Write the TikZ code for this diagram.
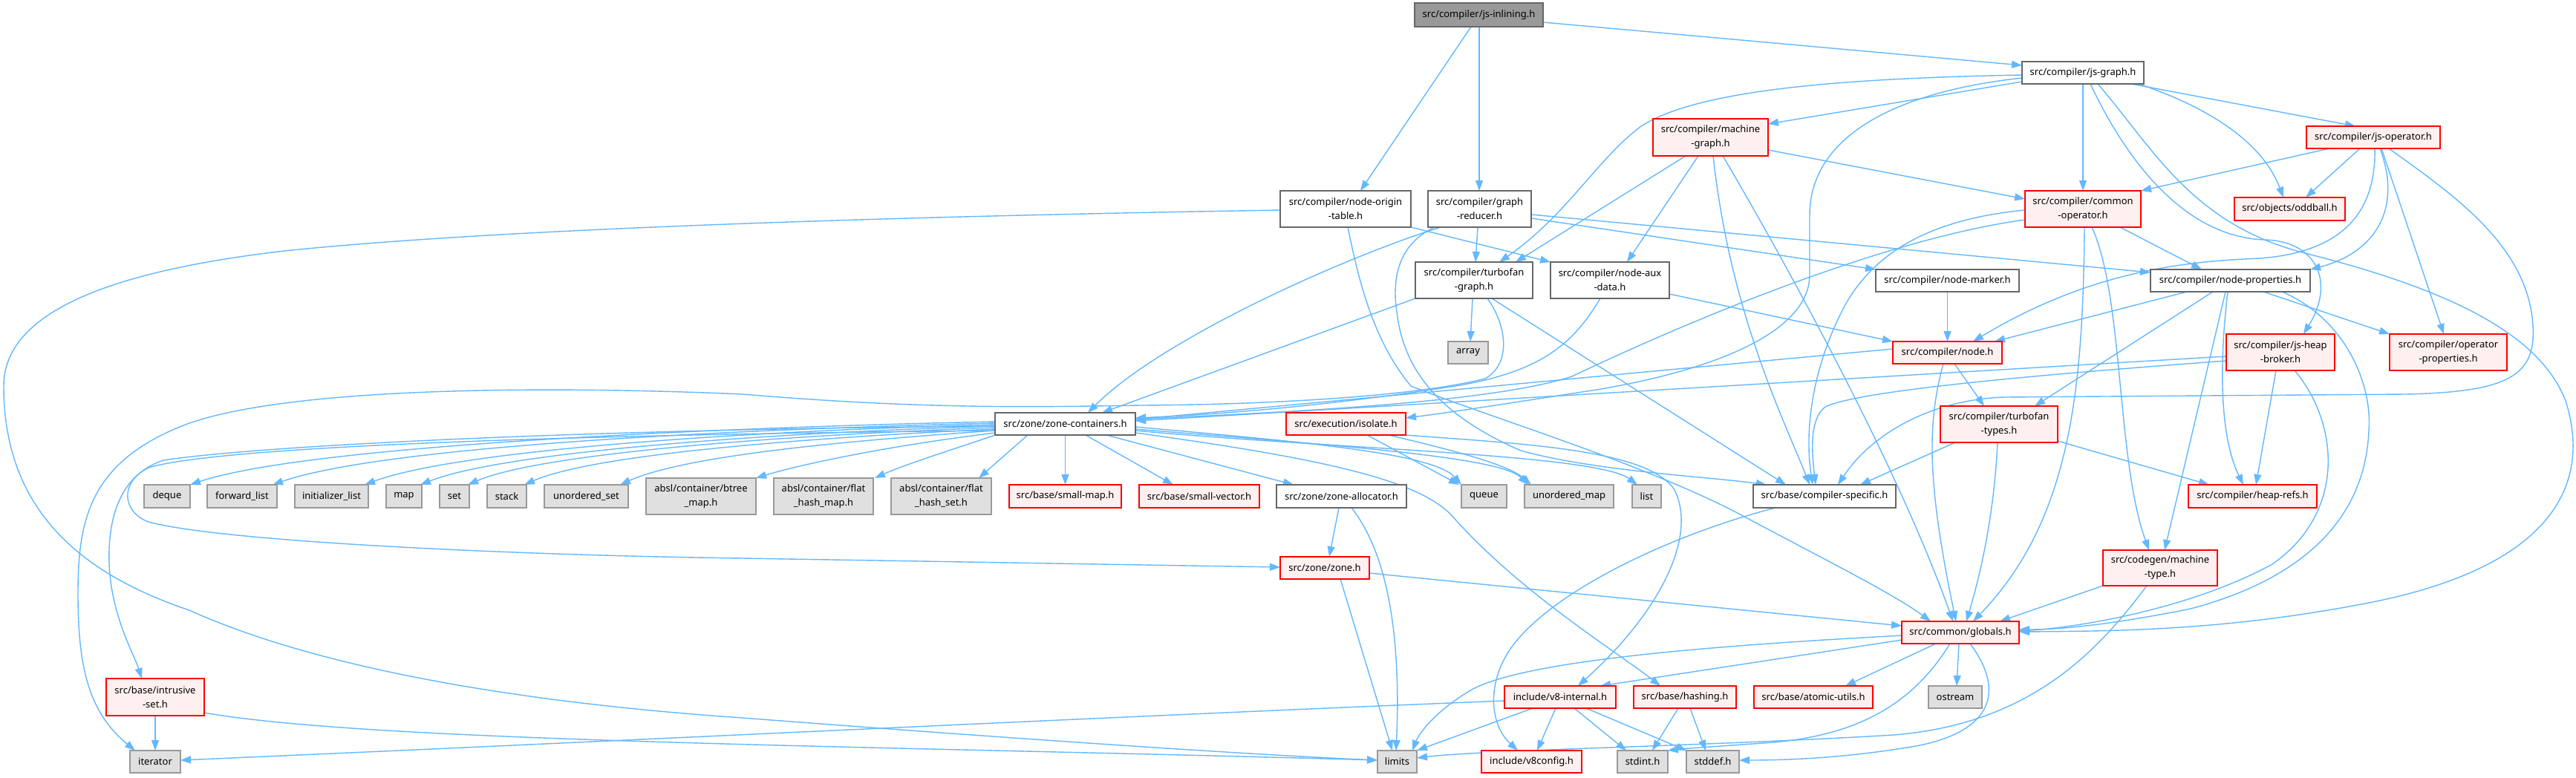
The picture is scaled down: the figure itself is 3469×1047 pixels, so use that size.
\documentclass[tikz,border=0pt]{standalone}
\usepackage{fontspec}
\newfontfamily\nf{Noto Sans}
\usetikzlibrary{arrows.meta}
\definecolor{eblue}{HTML}{63B8FF}
\definecolor{bred}{HTML}{FF0000}
\definecolor{bpink}{HTML}{FFF0F0}
\definecolor{bgray}{HTML}{666666}
\definecolor{ggray}{HTML}{999999}
\definecolor{gfill}{HTML}{E0E0E0}
\definecolor{mfill}{HTML}{999999}
\definecolor{mgray}{HTML}{666666}
\pgfdeclarelayer{back}\pgfdeclarelayer{edges}\pgfsetlayers{back,edges,main}
\tikzset{
 bx/.style={draw, line width=1.8pt, inner sep=0pt, outer sep=0pt, align=center, text=black, font=\nf\fontsize{13}{19}\selectfont},
 wb/.style 2 args={bx, draw=bgray, fill=white, minimum width=#1pt, minimum height=#2pt},
 rb/.style 2 args={bx, draw=bred, fill=bpink, minimum width=#1pt, minimum height=#2pt},
 gb/.style 2 args={bx, draw=ggray, fill=gfill, minimum width=#1pt, minimum height=#2pt},
 mb/.style 2 args={bx, draw=mgray, fill=mfill, minimum width=#1pt, minimum height=#2pt},
 e/.style={draw=eblue, line width=1.4pt, -{Triangle[length=14pt,width=10pt]}}
}
\begin{document}
\begin{tikzpicture}[x=1pt,y=-1pt]
\useasboundingbox (0,0) rectangle (3469,1047);
\begin{pgfonlayer}{back}\fill[white] (0,0) rectangle (3469,1047);\end{pgfonlayer}
% ---------- nodes ----------
\node[mb={173}{32}] (jsinl) at (1991.5,20) {src/compiler/js-inlining.h};
\node[wb={164}{30}] (jsgraph) at (2805,98) {src/compiler/js-graph.h};
\node[rb={155}{50}] (mgraph) at (2303.5,185) {src/compiler/machine\\-graph.h};
\node[rb={180}{30}] (jsop) at (3196,185) {src/compiler/js-operator.h};
\node[wb={176}{49}] (nodeorig) at (1812,281.5) {src/compiler/node-origin\\-table.h};
\node[wb={139}{49}] (greducer) at (1992.5,281.5) {src/compiler/graph\\-reducer.h};
\node[rb={156}{49}] (commonop) at (2805,281.5) {src/compiler/common\\-operator.h};
\node[rb={149}{31}] (oddball) at (3083.5,281.5) {src/objects/oddball.h};
\node[wb={158}{49}] (tfgraph) at (1985,377.5) {src/compiler/turbofan\\-graph.h};
\node[wb={160}{49}] (auxdata) at (2168,377.5) {src/compiler/node-aux\\-data.h};
\node[wb={193}{30}] (marker) at (2622.5,378) {src/compiler/node-marker.h};
\node[wb={215}{30}] (nprops) at (3003.5,378) {src/compiler/node-properties.h};
\node[gb={54}{30}] (array) at (1977,475) {array};
\node[rb={147}{30}] (nodeh) at (2622.5,475) {src/compiler/node.h};
\node[rb={146}{49}] (heapbroker) at (3071,474.5) {src/compiler/js-heap\\-broker.h};
\node[rb={158}{49}] (opprops) at (3297,474.5) {src/compiler/operator\\-properties.h};
\node[wb={189}{30}] (zc) at (1434.5,571) {src/zone/zone-containers.h};
\node[rb={161}{30}] (isolate) at (1812.5,571) {src/execution/isolate.h};
\node[rb={158}{49}] (tftypes) at (2692,571.5) {src/compiler/turbofan\\-types.h};
\node[gb={62}{31}] (deque) at (225,668.5) {deque};
\node[gb={94}{31}] (fwdlist) at (326,668.5) {forward\_list};
\node[gb={99}{31}] (initlist) at (446.5,668.5) {initializer\_list};
\node[gb={48}{31}] (map) at (544,668.5) {map};
\node[gb={40}{31}] (set) at (612,668.5) {set};
\node[gb={53}{31}] (stack) at (682.5,668.5) {stack};
\node[gb={113}{31}] (uset) at (789.5,668.5) {unordered\_set};
\node[gb={148}{49}] (btree) at (944,668.5) {absl/container/btree\\\_map.h};
\node[gb={134}{49}] (fhmap) at (1109,668.5) {absl/container/flat\\\_hash\_map.h};
\node[gb={135}{49}] (fhset) at (1267.5,668.5) {absl/container/flat\\\_hash\_set.h};
\node[rb={151}{31}] (smallmap) at (1434.5,668.5) {src/base/small-map.h};
\node[rb={162}{31}] (smallvec) at (1615,668.5) {src/base/small-vector.h};
\node[wb={175}{31}] (zalloc) at (1806.5,668.5) {src/zone/zone-allocator.h};
\node[gb={61}{31}] (queue) at (1998.5,668.5) {queue};
\node[gb={120}{31}] (umap) at (2113,668.5) {unordered\_map};
\node[gb={39}{31}] (list) at (2217.5,668.5) {list};
\node[wb={192}{31}] (cspec) at (2457,668.5) {src/base/compiler-specific.h};
\node[rb={173}{31}] (heaprefs) at (3033.5,668.5) {src/compiler/heap-refs.h};
\node[rb={154}{48}] (mtype) at (2909,765) {src/codegen/machine\\-type.h};
\node[rb={120}{30}] (zoneh) at (1784,765) {src/zone/zone.h};
\node[rb={158}{30}] (globals) at (2640,852) {src/common/globals.h};
\node[rb={132}{50}] (intrusive) at (209,939) {src/base/intrusive\\-set.h};
\node[rb={150}{30}] (v8int) at (2101,939) {include/v8-internal.h};
\node[rb={138}{30}] (hashing) at (2269,939) {src/base/hashing.h};
\node[rb={160}{30}] (atomic) at (2442,939) {src/base/atomic-utils.h};
\node[gb={72}{30}] (ostream) at (2633,939) {ostream};
\node[gb={68}{30}] (iterator) at (209,1026) {iterator};
\node[gb={53}{30}] (limits) at (1881.5,1026) {limits};
\node[rb={135}{30}] (v8config) at (2062.5,1026) {include/v8config.h};
\node[gb={68}{30}] (stdint) at (2212,1026) {stdint.h};
\node[gb={71}{30}] (stddef) at (2306.5,1026) {stddef.h};
% ---------- edges ----------
\begin{pgfonlayer}{edges}
% js-inlining
\draw[e] (jsinl.south -| 1981,0) -- (nodeorig.north -| 1832,0);
\draw[e] (jsinl.south -| 1992,0) -- (greducer.north -| 1992,0);
\draw[e] (jsinl.east |- 0,30) -- (jsgraph.west |- 0,88);
% js-graph
\draw[e] (jsgraph.west |- 0,110) -- (mgraph.east |- 0,167);
\draw[e] (jsgraph.south) -- (commonop.north);
\draw[e] (jsgraph.south -| 2870,0) -- (jsop.north -| 3172,0);
\draw[e] (jsgraph.south -| 2880,0) .. controls (2990,150) and (3050,200) .. (oddball.north -| 3075,0);
\draw[e] (jsgraph.west |- 0,101) .. controls (2450,106) and (2280,125) .. (2210,170) .. controls (2150,215) and (2110,290) .. (tfgraph.north -| 2019,0);
\draw[e] (jsgraph.west |- 0,105) .. controls (2540,125) and (2437,190) .. (2437,290) -- (2437,370) .. controls (2437,450) and (2300,500) .. (2150,525) .. controls (2020,545) and (1950,556) .. (isolate.east |- 0,563);
\draw[e] (jsgraph.south -| 2815,0) .. controls (2870,230) and (2950,320) .. (3050,323) .. controls (3120,325) and (3145,380) .. (heapbroker.north -| 3102,0);
\draw[e] (jsgraph.south -| 2825,0) .. controls (2900,200) and (2950,300) .. (3100,340) .. controls (3300,390) and (3420,450) .. (3455,540) .. controls (3490,650) and (3440,760) .. (3200,810) .. controls (3000,850) and (2850,850) .. (globals.east |- 0,851);
% machine-graph
\draw[e] (mgraph.east |- 0,202) -- (commonop.west |- 0,268);
\draw[e] (mgraph.south -| 2270,0) -- (tfgraph.north -| 2041,0);
\draw[e] (mgraph.south -| 2287,0) -- (auxdata.north -| 2191,0);
\draw[e] (mgraph.south -| 2307,0) .. controls (2330,420) and (2400,560) .. (cspec.north -| 2437,0);
\draw[e] (mgraph.south -| 2320,0) .. controls (2420,380) and (2560,640) .. (globals.north -| 2630,0);
% node-origin-table
\draw[e] (nodeorig.south east) -- (auxdata.north west);
\draw[e] (nodeorig.west |- 0,283) .. controls (1300,290) and (700,305) .. (383,338) .. controls (150,365) and (5,420) .. (5,520) .. controls (5,680) and (100,770) .. (255,822) .. controls (450,910) and (750,950) .. (1000,967) .. controls (1300,990) and (1650,1015) .. (limits.west |- 0,1024);
\draw[e] (nodeorig.south -| 1815,0) .. controls (1830,380) and (1850,460) .. (1900,520) .. controls (2000,560) and (2200,620) .. (2334,688) .. controls (2450,750) and (2550,800) .. (globals.north -| 2600,0);
% graph-reducer
\draw[e] (greducer.south -| 1990,0) -- (tfgraph.north -| 1987,0);
\draw[e] (greducer.east |- 0,294) -- (marker.north west);
\draw[e] (greducer.east |- 0,289) -- (nprops.west |- 0,367);
\draw[e] (greducer.south -| 1940,0) .. controls (1800,350) and (1560,460) .. (zc.north -| 1465,0);
\draw[e] (greducer.south -| 1932,0) .. controls (1880,330) and (1875,380) .. (1881,420) .. controls (1890,500) and (1940,560) .. (2048,607) .. controls (2150,635) and (2300,642) .. (cspec.north -| 2379,0);
% turbofan-graph
\draw[e] (tfgraph.south -| 1983,0) -- (array.north -| 1980,0);
\draw[e] (tfgraph.south west) -- (zc.north -| 1484,0);
\draw[e] (tfgraph.south -| 2009,0) -- (cspec.north -| 2405,0);
\draw[e] (tfgraph.south -| 2003,0) .. controls (2030,440) and (2035,490) .. (2000,510) .. controls (1900,535) and (1700,545) .. (1537,546) .. controls (1400,548) and (1250,552) .. (1000,531) .. controls (750,520) and (400,520) .. (255,570) .. controls (120,620) and (105,700) .. (105,800) .. controls (105,900) and (120,960) .. (iterator.north -| 182,0);
% node-aux-data
\draw[e] (auxdata.east |- 0,396) -- (nodeh.north west);
\draw[e] (auxdata.south -| 2155,0) .. controls (2120,460) and (2080,500) .. (1960,520) .. controls (1800,545) and (1650,558) .. (zc.east |- 0,563);
% node-marker
\draw[e] (marker.south) -- (nodeh.north);
% common-operator
\draw[e] (commonop.south -| 2855,0) -- (nprops.north -| 2965,0);
\draw[e] (commonop.west |- 0,283) .. controls (2600,295) and (2520,340) .. (2480,420) .. controls (2440,500) and (2430,580) .. (cspec.north -| 2441,0);
\draw[e] (commonop.west |- 0,296) .. controls (2550,320) and (2300,420) .. (2117,507) .. controls (2000,545) and (1700,556) .. (zc.east |- 0,565);
\draw[e] (commonop.south -| 2807,0) .. controls (2805,520) and (2790,700) .. (globals.north -| 2657,0);
\draw[e] (commonop.south -| 2817,0) .. controls (2860,400) and (2850,620) .. (mtype.north -| 2894,0);
% js-operator
\draw[e] (jsop.south -| 3137,0) -- (commonop.north east);
\draw[e] (jsop.south -| 3178,0) -- (oddball.north -| 3105,0);
\draw[e] (jsop.south -| 3198,0) .. controls (3200,290) and (3150,340) .. (3043,348) .. controls (2950,352) and (2820,362) .. (nodeh.north -| 2657,0);
\draw[e] (jsop.south -| 3205,0) .. controls (3235,280) and (3200,340) .. (nprops.north east);
\draw[e] (jsop.south -| 3207,0) -- (opprops.north -| 3291,0);
\draw[e] (jsop.south -| 3217,0) .. controls (3300,260) and (3405,330) .. (3411,439) .. controls (3415,505) and (3380,528) .. (3240,531) -- (2700,535) .. controls (2600,538) and (2520,585) .. (cspec.north -| 2475,0);
% node-properties
\draw[e] (nprops.south -| 2945,0) -- (nodeh.north -| 2686,0);
\draw[e] (nprops.south -| 2980,0) -- (tftypes.north -| 2740,0);
\draw[e] (nprops.south -| 2997,0) -- (mtype.north -| 2915,0);
\draw[e] (nprops.south -| 3000,0) .. controls (2985,520) and (2995,600) .. (heaprefs.north -| 3021,0);
\draw[e] (nprops.south -| 3048,0) -- (opprops.north west);
\draw[e] (nprops.south -| 3073,0) .. controls (3160,430) and (3195,520) .. (3190,580) .. controls (3185,700) and (3100,780) .. (2950,820) .. controls (2850,840) and (2780,848) .. (globals.east |- 0,848);
% js-heap-broker
\draw[e] (heapbroker.south -| 3065,0) -- (heaprefs.north -| 3038,0);
\draw[e] (heapbroker.south -| 3090,0) .. controls (3150,570) and (3160,690) .. (3060,760) .. controls (2950,820) and (2800,845) .. (globals.east |- 0,850);
\draw[e] (heapbroker.west |- 0,480) -- (zc.east |- 0,567);
\draw[e] (heapbroker.west |- 0,486) .. controls (2700,508) and (2500,528) .. (2458,548) .. controls (2436,565) and (2440,610) .. (cspec.north -| 2445,0);
% node.h
\draw[e] (nodeh.west |- 0,470) -- (zc.east |- 0,565);
\draw[e] (nodeh.south -| 2632,0) -- (tftypes.north -| 2672,0);
\draw[e] (nodeh.south -| 2617,0) .. controls (2595,570) and (2595,650) .. (globals.north -| 2634,0);
% turbofan-types
\draw[e] (tftypes.south -| 2633,0) -- (cspec.north -| 2505,0);
\draw[e] (tftypes.south -| 2690,0) .. controls (2685,700) and (2665,780) .. (globals.north -| 2648,0);
\draw[e] (tftypes.east |- 0,594) -- (heaprefs.north -| 2975,0);
% machine-type
\draw[e] (mtype.south west) -- (globals.north -| 2693,0);
\draw[e] (mtype.south -| 2891,0) .. controls (2830,870) and (2740,975) .. (2550,990) .. controls (2300,1005) and (2000,1010) .. (limits.east |- 0,1021);
% globals
\draw[e] (globals.west |- 0,862) -- (v8int.north -| 2155,0);
\draw[e] (globals.south -| 2607,0) -- (atomic.north -| 2485,0);
\draw[e] (globals.south -| 2638,0) -- (ostream.north -| 2635,0);
\draw[e] (globals.west |- 0,856) .. controls (2300,870) and (2050,890) .. (1980,930) .. controls (1930,960) and (1910,990) .. (limits.north -| 1902,0);
\draw[e] (globals.south -| 2626,0) .. controls (2575,950) and (2500,990) .. (2388,1000) .. controls (2320,1005) and (2270,1008) .. (stdint.north east);
\draw[e] (globals.south -| 2653,0) .. controls (2700,930) and (2685,985) .. (2580,1005) .. controls (2480,1022) and (2400,1024) .. (stddef.east |- 0,1024);
% v8-internal
\draw[e] (v8int.west |- 0,944) .. controls (1500,965) and (800,1000) .. (iterator.east |- 0,1024);
\draw[e] (v8int.south -| 2064,0) -- (limits.north east);
\draw[e] (v8int.south -| 2095,0) -- (v8config.north -| 2070,0);
\draw[e] (v8int.south -| 2120,0) -- (stdint.north -| 2190,0);
\draw[e] (v8int.south -| 2136,0) -- (stddef.north west);
% hashing
\draw[e] (hashing.south -| 2260,0) -- (stdint.north -| 2225,0);
\draw[e] (hashing.south -| 2276,0) -- (stddef.north -| 2297,0);
% zone
\draw[e] (zoneh.east |- 0,772) -- (globals.west |- 0,843);
\draw[e] (zoneh.south -| 1805,0) -- (limits.north -| 1875,0);
\draw[e] (zalloc.south -| 1803,0) -- (zoneh.north -| 1790,0);
\draw[e] (zalloc.south -| 1820,0) .. controls (1880,760) and (1885,900) .. (limits.north -| 1880,0);
% intrusive-set
\draw[e] (intrusive.south) -- (iterator.north);
\draw[e] (intrusive.east |- 0,960) .. controls (500,1000) and (1200,1005) .. (limits.west |- 0,1024);
% compiler-specific
\draw[e] (cspec.south -| 2391,0) .. controls (2250,720) and (2080,800) .. (2030,880) .. controls (2000,930) and (2010,980) .. (v8config.north -| 2044,0);
% isolate
\draw[e] (isolate.south -| 1841,0) -- (queue.north -| 1965,0);
\draw[e] (isolate.south -| 1870,0) .. controls (1950,605) and (2030,625) .. (umap.north -| 2062,0);
\draw[e] (isolate.south east) .. controls (2050,598) and (2220,605) .. (2255,660) .. controls (2285,720) and (2240,820) .. (v8int.north -| 2125,0);
% zone-containers fan
\draw[e] (zc.west |- 0,568) .. controls (1000,575) and (420,598) .. (deque.north east);
\draw[e] (zc.west |- 0,570) .. controls (1000,578) and (520,600) .. (fwdlist.north -| 367,0);
\draw[e] (zc.west |- 0,572) .. controls (1020,580) and (620,605) .. (initlist.north -| 491,0);
\draw[e] (zc.west |- 0,574) .. controls (1040,583) and (680,608) .. (map.north -| 566,0);
\draw[e] (zc.west |- 0,576) .. controls (1060,586) and (730,610) .. (set.north -| 630,0);
\draw[e] (zc.west |- 0,578) .. controls (1080,590) and (800,612) .. (stack.north -| 706,0);
\draw[e] (zc.west |- 0,580) .. controls (1120,595) and (920,615) .. (uset.north -| 835,0);
\draw[e] (zc.west |- 0,583) .. controls (1200,600) and (1080,625) .. (btree.north east);
\draw[e] (zc.south west) .. controls (1300,600) and (1220,625) .. (fhmap.north -| 1178,0);
\draw[e] (zc.south -| 1384,0) -- (fhset.north -| 1318,0);
\draw[e] (zc.south) -- (smallmap.north);
\draw[e] (zc.south -| 1462,0) -- (smallvec.north -| 1580,0);
\draw[e] (zc.south -| 1490,0) -- (zalloc.north -| 1742,0);
\draw[e] (zc.west |- 0,574) .. controls (800,578) and (350,600) .. (220,620) .. controls (160,640) and (145,700) .. (147,760) .. controls (150,830) and (180,880) .. (intrusive.north -| 191,0);
\draw[e] (zc.west |- 0,580) .. controls (800,585) and (300,600) .. (200,630) .. controls (160,650) and (165,690) .. (200,703) .. controls (300,730) and (700,748) .. (1000,752) .. controls (1300,757) and (1600,762) .. (zoneh.west |- 0,764);
\draw[e] (zc.east |- 0,575) .. controls (1750,595) and (1930,610) .. (queue.north -| 1968,0);
\draw[e] (zc.east |- 0,578) .. controls (1800,600) and (2020,615) .. (umap.north -| 2058,0);
\draw[e] (zc.east |- 0,580) .. controls (1800,605) and (2150,612) .. (list.north -| 2205,0);
\draw[e] (zc.east |- 0,583) .. controls (1800,620) and (1920,650) .. (1960,700) .. controls (2050,800) and (2180,880) .. (hashing.north -| 2236,0);
\end{pgfonlayer}
\end{tikzpicture}
\end{document}
